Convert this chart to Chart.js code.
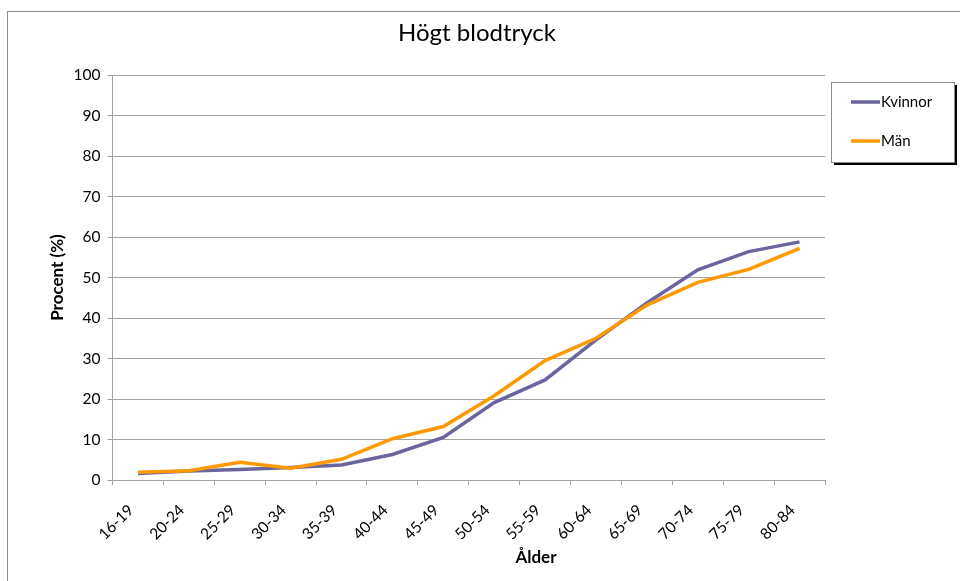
<!DOCTYPE html>
<html>
<head>
<meta charset="utf-8">
<script src="https://cdn.jsdelivr.net/npm/chart.js@4/dist/chart.umd.min.js"></script>
<style>
  html, body { margin: 0; padding: 0; background: #ffffff; }
  #wrap { position: relative; width: 960px; height: 581px; overflow: hidden; }
  #frame { position: absolute; left: 7px; top: 11px; width: 1000px; height: 700px; border-left: 1px solid #8c8c8c; border-top: 1px solid #8c8c8c; }
  canvas { position: absolute; left: 0; top: 0; }
</style>
</head>
<body>
<div id="wrap">
  <div id="frame"></div>
  <canvas id="BloodChart" width="960" height="581"></canvas>
</div>
<script>
(function () {
  "use strict";

  // data
  const chartTitle = 'Högt blodtryck';
  const xTitle = 'Ålder';
  const yTitle = 'Procent (%)';
  const ageGroups = ['16-19', '20-24', '25-29', '30-34', '35-39', '40-44', '45-49',
                     '50-54', '55-59', '60-64', '65-69', '70-74', '75-79', '80-84'];
  const kvinnor = [1.6, 2.2, 2.6, 3.1, 3.7, 6.3, 10.5, 19.1, 24.7, 34.6, 43.7, 51.9, 56.4, 58.8];
  const man     = [1.9, 2.3, 4.4, 2.9, 5.1, 10.2, 13.2, 20.8, 29.5, 35.0, 43.2, 48.8, 52.0, 57.2];
  const yTicks  = [0, 10, 20, 30, 40, 50, 60, 70, 80, 90, 100];

  // colors
  const purple = '#6a659f';
  const orange = '#ff9900';
  const grid_gray = '#a3a3a3';
  const font_family = 'Lato, "Liberation Sans", sans-serif';

  // titles + legend box drawn like the excel one
  const excelBits = {
    id: 'excelBits',
    afterDraw(chart) {
      const ctx = chart.ctx;
      ctx.save();
      ctx.fillStyle = '#000000';
      ctx.textBaseline = 'middle';
      ctx.textAlign = 'center';
      ctx.font = '24px ' + font_family;
      ctx.fillText(chartTitle, 477, 33);
      ctx.font = 'bold 17px ' + font_family;
      ctx.fillText(xTitle, 536, 558);

      // legend
      const lx = 831, ly = 82, lw = 123, lh = 80;
      ctx.fillStyle = '#000000';
      ctx.fillRect(lx + 3, ly + 3, lw, lh);
      ctx.fillStyle = '#ffffff';
      ctx.fillRect(lx, ly, lw, lh);
      ctx.strokeStyle = '#8c8c8c';
      ctx.lineWidth = 1;
      ctx.strokeRect(lx + 0.5, ly + 0.5, lw, lh);
      ctx.font = '15px ' + font_family;
      ctx.textAlign = 'left';
      chart.data.datasets.forEach(function (ds, i) {
        const yy = 102 + i * 39;
        ctx.strokeStyle = ds.borderColor;
        ctx.lineWidth = 3.5;
        ctx.beginPath();
        ctx.moveTo(851, yy);
        ctx.lineTo(880, yy);
        ctx.stroke();
        ctx.fillStyle = '#000000';
        ctx.fillText(ds.label, 881, yy);
      });
      ctx.restore();
    }
  };

  const ctxc = document.getElementById('BloodChart').getContext('2d');
  new Chart(ctxc, {
    type: 'line',
    data: {
      labels: ageGroups,
      datasets: [{
        label: 'Kvinnor',
        data: kvinnor,
        borderColor: purple,
        backgroundColor: purple,
        borderWidth: 3.5,
        pointRadius: 0,
        tension: 0,
        order: 1
      }, {
        label: 'Män',
        data: man,
        borderColor: orange,
        backgroundColor: orange,
        borderWidth: 3.5,
        pointRadius: 0,
        tension: 0,
        order: 0
      }]
    },
    options: {
      responsive: false,
      animation: false,
      layout: {
        padding: { left: 40, right: 135, top: 75, bottom: 10 }
      },
      plugins: {
        legend: { display: false },
        title: { display: false },
        tooltip: { enabled: false }
      },
      scales: {
        x: {
          type: 'category',
          offset: true,
          grid: {
            offset: true,
            drawOnChartArea: false,
            drawTicks: true,
            tickLength: 5,
            color: grid_gray
          },
          border: { color: grid_gray },
          ticks: {
            color: '#000000',
            font: { family: font_family, size: 15.5 },
            minRotation: 45,
            maxRotation: 45,
            padding: 16,
            labelOffset: -7
          },
          afterFit(scale) { scale.height = 91; }
        },
        y: {
          min: 0,
          max: 100,
          afterBuildTicks(scale) { scale.ticks = yTicks.map(function (v) { return { value: v }; }); },
          grid: {
            color: grid_gray,
            tickLength: 5,
            drawTicks: true
          },
          border: { color: grid_gray },
          ticks: {
            color: '#000000',
            font: { family: font_family, size: 15.5 },
            padding: 7
          },
          title: {
            display: true,
            text: yTitle,
            color: '#000000',
            font: { family: font_family, size: 17, weight: 'bold' },
            padding: { top: 7, bottom: 0 }
          },
          afterFit(scale) { scale.width = 72.5; }
        }
      }
    },
    plugins: [excelBits]
  });
})();
</script>
</body>
</html>
